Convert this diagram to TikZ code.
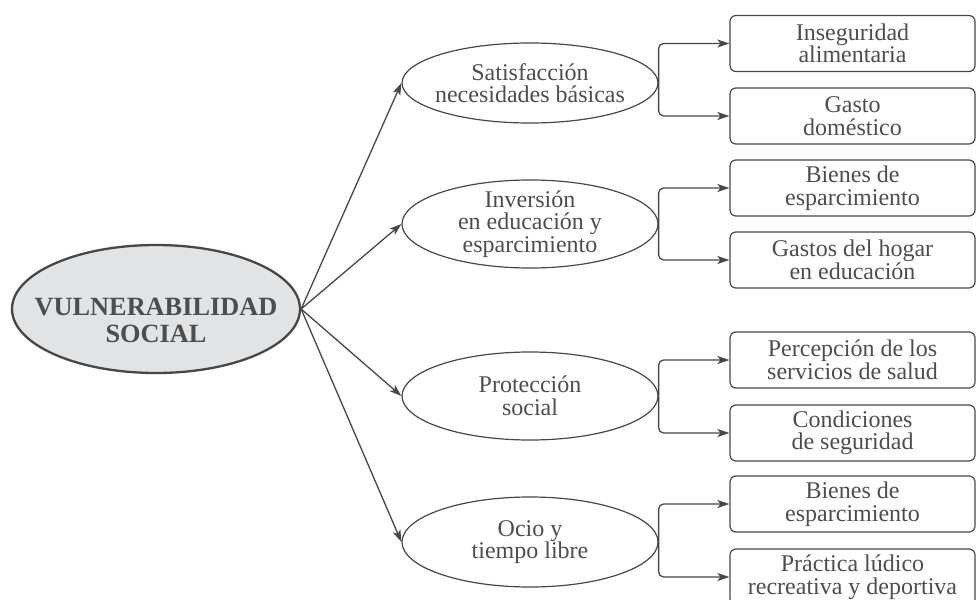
\documentclass[tikz,border=0pt]{standalone}
\usepackage{fontspec}
\setmainfont{Liberation Serif}
\usetikzlibrary{arrows.meta,shapes.geometric}
\definecolor{ink}{HTML}{474747}
\definecolor{txt}{HTML}{4D4D4D}
\definecolor{mainfill}{HTML}{E2E3E5}
\tikzset{
  subell/.style={ellipse, draw=ink, line width=1.2pt, minimum width=256pt, inner xsep=-40pt,
    inner ysep=-20pt, text=txt, align=center, font=\fontsize{24}{22.5}\selectfont},
  mainell/.style={ellipse, draw=ink, line width=2.3pt, fill=mainfill, minimum width=288pt,
    minimum height=128pt, inner sep=0pt, text=txt,
    font=\fontsize{26.3}{27}\selectfont\bfseries},
  leafbox/.style={rectangle, rounded corners=6pt, draw=ink, line width=1.2pt, minimum width=245pt,
    minimum height=56pt, inner sep=0pt, text=txt, align=center,
    font=\fontsize{24}{22.5}\selectfont},
  arr/.style={draw=ink, line width=1.3pt, -{Stealth[length=12pt,width=8pt,inset=3pt]}},
  brk/.style={arr, rounded corners=5pt}
}
\begin{document}
\begin{tikzpicture}[x=1pt,y=-1pt]
\useasboundingbox (0,0) rectangle (976,599);
\node[mainell] (main) at (156,309) {\makebox[0pt]{\raisebox{-21pt}[0pt][0pt]{\begin{tabular}{@{}c@{}}VULNERABILIDAD\\SOCIAL\end{tabular}}}};
\node[subell, minimum height=80pt] (e1) at (530,83) {Satisfacción\\necesidades básicas};
\node[subell, minimum height=88pt] (e2) at (530,224) {Inversión\\en educación y\\esparcimiento};
\node[subell, minimum height=88pt] (e3) at (530,396) {Protección\\social};
\node[subell, minimum height=90pt] (e4) at (530,542) {Ocio y\\tiempo libre};
\node[leafbox] (b1) at (852.5,43.5) {Inseguridad\\alimentaria};
\node[leafbox] (b2) at (852.5,116) {Gasto\\doméstico};
\node[leafbox] (b3) at (852.5,188) {Bienes de\\esparcimiento};
\node[leafbox] (b4) at (852.5,260) {Gastos del hogar\\en educación};
\node[leafbox] (b5) at (852.5,360) {Percepción de los\\servicios de salud};
\node[leafbox] (b6) at (852.5,433) {Condiciones\\de seguridad};
\node[leafbox] (b7) at (852.5,504) {Bienes de\\esparcimiento};
\node[leafbox] (b8) at (852.5,577) {Práctica lúdico\\recreativa y deportiva};
\foreach \e in {e1,e2,e3,e4} \draw[arr] (main.east) -- (\e.west);
\draw[brk] (e1.east) |- (b1.west);
\draw[brk] (e1.east) |- (b2.west);
\draw[brk] (e2.east) |- (b3.west);
\draw[brk] (e2.east) |- (b4.west);
\draw[brk] (e3.east) |- (b5.west);
\draw[brk] (e3.east) |- (b6.west);
\draw[brk] (e4.east) |- (b7.west);
\draw[brk] (e4.east) |- (b8.west);
\end{tikzpicture}
\end{document}
